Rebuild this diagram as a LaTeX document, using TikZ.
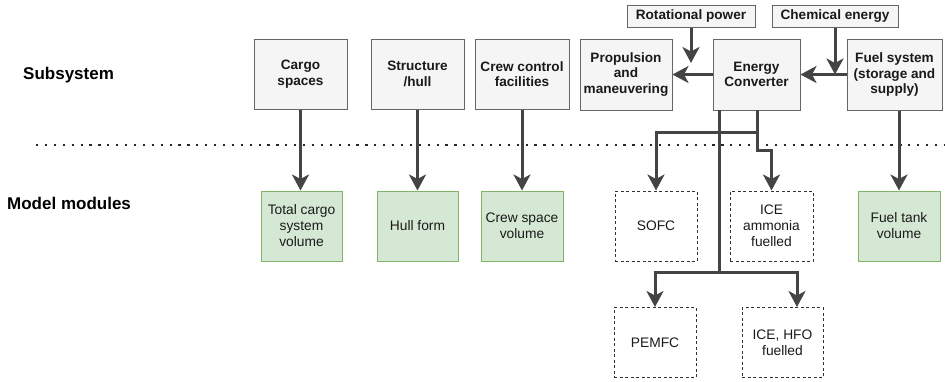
\documentclass[tikz,border=0pt]{standalone}
\usepackage{fontspec}
\setmainfont{Liberation Sans}
\usetikzlibrary{arrows.meta,calc}
\definecolor{gfill}{HTML}{F5F5F5}
\definecolor{gdraw}{HTML}{666666}
\definecolor{grfill}{HTML}{D5E8D4}
\definecolor{grdraw}{HTML}{82B366}
\definecolor{conncol}{HTML}{444444}
\definecolor{txt}{HTML}{1A1A1A}
\tikzset{
  sub/.style={draw=gdraw, fill=gfill, line width=1pt, align=center, inner sep=0pt,
    font=\fontsize{13.6}{15.5}\selectfont\bfseries, text=txt, minimum height=70pt},
  src/.style={sub, minimum height=22pt},
  modg/.style={draw=grdraw, fill=grfill, line width=1pt, align=center, inner sep=0pt,
    font=\fontsize{13.8}{16}\selectfont, text=txt, minimum height=70pt, minimum width=81pt},
  modd/.style={draw=black!80, fill=white, line width=1pt, dash pattern=on 3pt off 2.5pt,
    align=center, inner sep=0pt, font=\fontsize{13.8}{16}\selectfont, text=txt,
    minimum height=70pt, minimum width=82pt},
  conn/.style={draw=conncol, line width=3pt, -{Stealth[length=16pt,width=17pt,inset=4.5pt]}},
  plain/.style={draw=conncol, line width=3pt},
  lab/.style={font=\fontsize{17}{20}\selectfont\bfseries, text=black, inner sep=0pt}
}
\begin{document}
\begin{tikzpicture}[x=1pt,y=-1pt]
\useasboundingbox (0,0) rectangle (945,381);
% labels
\node[lab, anchor=west] (lsub) at (23,75) {Subsystem};
\node[lab, anchor=west] (lmod) at (7,203) {Model modules};
% dotted separator
\draw[line width=2.2pt, dash pattern=on 2.2pt off 6.7pt, black!85] (36,145) -- (945,145);
% subsystem boxes
\node[sub, minimum width=93pt] (cargo) at (300.5,74) {Cargo\\spaces};
\node[sub, minimum width=93pt] (hull) at (417.5,74) {Structure\\/hull};
\node[sub, minimum width=94pt] (crew) at (522,74) {Crew control\\facilities};
\node[sub, minimum width=92pt, minimum height=71pt] (prop) at (626,74.5) {Propulsion\\and\\maneuvering};
\node[sub, minimum width=87pt, minimum height=71pt] (ec) at (756.5,74.5) {Energy\\Converter};
\node[sub, minimum width=95pt, minimum height=71pt] (fuel) at (894.5,74.5) {Fuel system\\(storage and\\supply)};
\node[src, minimum width=128pt] (rot) at (691,16) {Rotational power};
\node[src, minimum width=126pt] (chem) at (835,16) {Chemical energy};
% model modules
\node[modg] (tcargo) at (301.5,226) {Total cargo\\system\\volume};
\node[modg] (hform) at (417.5,226) {Hull form};
\node[modg, minimum width=82pt] (cvol) at (522,226) {Crew space\\volume};
\node[modg, minimum width=82pt] (ftank) at (899,226) {Fuel tank\\volume};
\node[modd] (sofc) at (656,226) {SOFC};
\node[modd, minimum width=83pt] (iceamm) at (771.5,226) {ICE\\ammonia\\fuelled};
\node[modd] (pemfc) at (655,342.5) {PEMFC};
\node[modd, minimum width=81pt] (icehfo) at (782.5,342.5) {ICE, HFO\\fuelled};
% coordinates
\coordinate (rotend) at (691,63);
\coordinate (chemend) at (835,74.5);
\coordinate (ecL) at (719,110);
\coordinate (ecR) at (757,110);
\coordinate (j1) at (757,132);
\coordinate (j1b) at (757,150);
\coordinate (j2) at (719,272);
\coordinate (hfoin) at (797,307);
% connectors
\draw[conn] (ec.west) -- (prop.east);
\draw[conn] (fuel.west) -- (ec.east);
\draw[conn] (rot.south) -- (rotend);
\draw[conn] (chem.south) -- (chemend);
\draw[conn] (cargo.south) -- (cargo.south |- tcargo.north);
\draw[conn] (hull.south) -- (hform.north);
\draw[conn] (crew.south) -- (cvol.north);
\draw[conn] (fuel.south -| ftank.north) -- (ftank.north);
\draw[plain] (ecL) -- (j2);
\draw[conn] (j2) -| (pemfc.north);
\draw[conn] (j2) -| (hfoin);
\draw[plain] (ecR) -- (j1);
\draw[conn] (j1) -| (sofc.north);
\draw[conn] (j1) -- (j1b) -| (iceamm.north);
\end{tikzpicture}
\end{document}
